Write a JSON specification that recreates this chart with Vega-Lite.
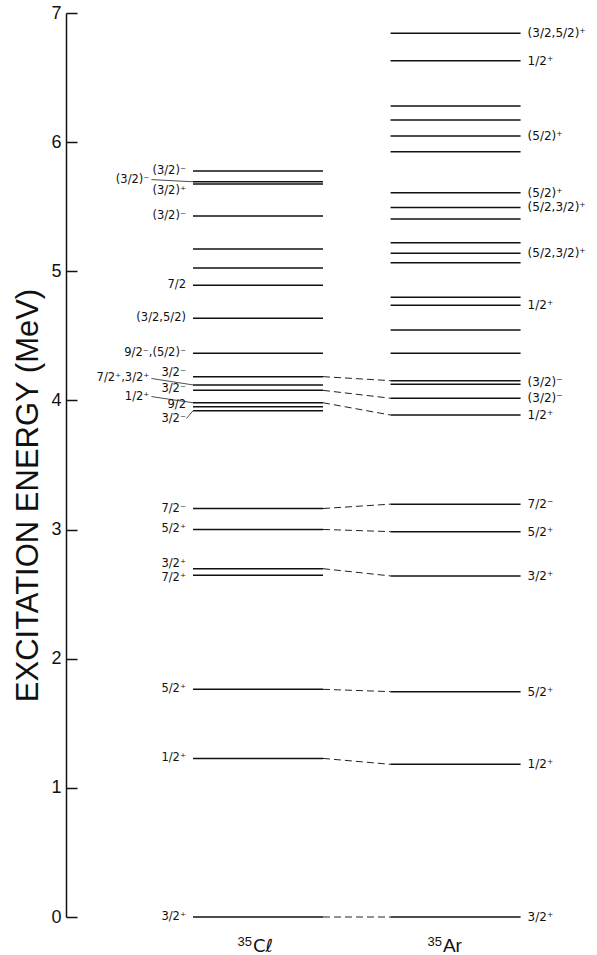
{
  "$schema": "https://vega.github.io/schema/vega-lite/v6.json",
  "width": 531,
  "height": 904,
  "autosize": {"type": "none"},
  "padding": {"left": 66, "top": 13, "right": 0, "bottom": 38},
  "background": "white",
  "config": {"view": {"stroke": null}},
  "datasets": {
    "levels": [
      {"nuc": "Cl", "E": 0, "J": "3/2⁺", "at": 0},
      {"nuc": "Cl", "E": 1.228, "J": "1/2⁺", "at": 1.228},
      {"nuc": "Cl", "E": 1.763, "J": "5/2⁺", "at": 1.763},
      {"nuc": "Cl", "E": 2.646, "J": "7/2⁺", "at": 2.625},
      {"nuc": "Cl", "E": 2.697, "J": "3/2⁺", "at": 2.73},
      {"nuc": "Cl", "E": 3.001, "J": "5/2⁺", "at": 3.001},
      {"nuc": "Cl", "E": 3.163, "J": "7/2⁻", "at": 3.163},
      {"nuc": "Cl", "E": 3.92, "J": "3/2⁻", "at": 3.86, "pos": "near"},
      {"nuc": "Cl", "E": 3.951, "J": "9/2", "at": 3.965},
      {"nuc": "Cl", "E": 3.982, "J": "1/2⁺", "at": 4.03, "pos": "far"},
      {"nuc": "Cl", "E": 4.078, "J": "3/2⁻", "at": 4.09},
      {"nuc": "Cl", "E": 4.12, "J": "7/2⁺,3/2⁺", "at": 4.17, "pos": "far"},
      {"nuc": "Cl", "E": 4.184, "J": "3/2⁻", "at": 4.215},
      {"nuc": "Cl", "E": 4.365, "J": "9/2⁻,(5/2)⁻", "at": 4.365},
      {"nuc": "Cl", "E": 4.636, "J": "(3/2,5/2)", "at": 4.636},
      {"nuc": "Cl", "E": 4.892, "J": "7/2", "at": 4.892},
      {"nuc": "Cl", "E": 5.025},
      {"nuc": "Cl", "E": 5.173},
      {"nuc": "Cl", "E": 5.428, "J": "(3/2)⁻", "at": 5.428},
      {"nuc": "Cl", "E": 5.675, "J": "(3/2)⁺", "at": 5.625},
      {"nuc": "Cl", "E": 5.693, "J": "(3/2)⁻", "at": 5.71, "pos": "far"},
      {"nuc": "Cl", "E": 5.777, "J": "(3/2)⁻", "at": 5.777},
      {"nuc": "Ar", "E": 0, "J": "3/2⁺", "at": 0},
      {"nuc": "Ar", "E": 1.182, "J": "1/2⁺", "at": 1.182},
      {"nuc": "Ar", "E": 1.745, "J": "5/2⁺", "at": 1.745},
      {"nuc": "Ar", "E": 2.641, "J": "3/2⁺", "at": 2.641},
      {"nuc": "Ar", "E": 2.984, "J": "5/2⁺", "at": 2.984},
      {"nuc": "Ar", "E": 3.197, "J": "7/2⁻", "at": 3.197},
      {"nuc": "Ar", "E": 3.887, "J": "1/2⁺", "at": 3.887},
      {"nuc": "Ar", "E": 4.017, "J": "(3/2)⁻", "at": 4.017},
      {"nuc": "Ar", "E": 4.125},
      {"nuc": "Ar", "E": 4.153, "J": "(3/2)⁻", "at": 4.139},
      {"nuc": "Ar", "E": 4.365},
      {"nuc": "Ar", "E": 4.545},
      {"nuc": "Ar", "E": 4.737, "J": "1/2⁺", "at": 4.737},
      {"nuc": "Ar", "E": 4.798},
      {"nuc": "Ar", "E": 5.067},
      {"nuc": "Ar", "E": 5.139, "J": "(5/2,3/2)⁺", "at": 5.139},
      {"nuc": "Ar", "E": 5.221},
      {"nuc": "Ar", "E": 5.405},
      {"nuc": "Ar", "E": 5.494, "J": "(5/2,3/2)⁺", "at": 5.494},
      {"nuc": "Ar", "E": 5.609, "J": "(5/2)⁺", "at": 5.609},
      {"nuc": "Ar", "E": 5.926},
      {"nuc": "Ar", "E": 6.048, "J": "(5/2)⁺", "at": 6.048},
      {"nuc": "Ar", "E": 6.172},
      {"nuc": "Ar", "E": 6.28},
      {"nuc": "Ar", "E": 6.631, "J": "1/2⁺", "at": 6.631},
      {"nuc": "Ar", "E": 6.843, "J": "(3/2,5/2)⁺", "at": 6.843}
    ],
    "links": [
      {"cl": 0, "ar": 0},
      {"cl": 1.228, "ar": 1.182},
      {"cl": 1.763, "ar": 1.745},
      {"cl": 2.697, "ar": 2.641},
      {"cl": 3.001, "ar": 2.984},
      {"cl": 3.163, "ar": 3.197},
      {"cl": 3.982, "ar": 3.887},
      {"cl": 4.078, "ar": 4.017},
      {"cl": 4.184, "ar": 4.153}
    ],
    "names": [
      {"nuc": "Cl", "mass": "35", "sym": "Cℓ"},
      {"nuc": "Ar", "mass": "35", "sym": "Ar"}
    ]
  },
  "layer": [
    {
      "data": {"name": "levels"},
      "transform": [{"filter": "datum.nuc === 'Cl'"}],
      "mark": {"type": "rule", "stroke": "#111", "strokeWidth": 1.5},
      "encoding": {
        "x": {"datum": 0, "type": "quantitative", "scale": {"domain": [-0.977, 3.108], "nice": false, "zero": false}, "axis": null},
        "x2": {"datum": 1},
        "y": {
          "field": "E", "type": "quantitative",
          "scale": {"domain": [0, 7], "nice": false, "zero": false},
          "title": "EXCITATION ENERGY (MeV)",
          "axis": {
            "values": [0, 1, 2, 3, 4, 5, 6, 7], "format": "d", "grid": false,
            "tickSize": -11, "tickWidth": 1.5, "tickColor": "#111",
            "domainColor": "#111", "domainWidth": 1.5,
            "labelFont": "Liberation Sans", "labelFontSize": 18, "labelColor": "#111",
            "labelPadding": 16, "labelBaseline": "middle",
            "titleFont": "Liberation Sans", "titleFontSize": 31, "titleFontWeight": "normal",
            "titleColor": "#111", "titleAngle": -90, "titleX": -29, "titleY": 482,
            "titleBaseline": "alphabetic", "titleAlign": "center"
          }
        }
      }
    },
    {
      "data": {"name": "levels"},
      "transform": [{"filter": "datum.nuc === 'Ar'"}],
      "mark": {"type": "rule", "stroke": "#111", "strokeWidth": 1.5},
      "encoding": {
        "x": {"datum": 1.52, "type": "quantitative"},
        "x2": {"datum": 2.52},
        "y": {"field": "E", "type": "quantitative", "title": "EXCITATION ENERGY (MeV)"}
      }
    },
    {
      "data": {"name": "links"},
      "mark": {"type": "rule", "stroke": "#222", "strokeWidth": 1, "strokeDash": [7, 4]},
      "encoding": {
        "x": {"datum": 1, "type": "quantitative"},
        "x2": {"datum": 1.52},
        "y": {"field": "cl", "type": "quantitative", "title": "EXCITATION ENERGY (MeV)"},
        "y2": {"field": "ar"}
      }
    },
    {
      "data": {"name": "levels"},
      "transform": [{"filter": "datum.pos === 'far'"}],
      "mark": {"type": "rule", "stroke": "#222", "strokeWidth": 0.8},
      "encoding": {
        "x": {"datum": -0.32, "type": "quantitative"},
        "x2": {"datum": 0},
        "y": {"field": "at", "type": "quantitative", "title": "EXCITATION ENERGY (MeV)"},
        "y2": {"field": "E"}
      }
    },
    {
      "data": {"name": "levels"},
      "transform": [{"filter": "datum.pos === 'near'"}],
      "mark": {"type": "rule", "stroke": "#222", "strokeWidth": 0.8},
      "encoding": {
        "x": {"datum": -0.05, "type": "quantitative"},
        "x2": {"datum": 0},
        "y": {"field": "at", "type": "quantitative", "title": "EXCITATION ENERGY (MeV)"},
        "y2": {"field": "E"}
      }
    },
    {
      "data": {"name": "levels"},
      "transform": [{"filter": "datum.nuc === 'Cl' && datum.J && datum.pos !== 'far'"}],
      "mark": {"type": "text", "align": "right", "baseline": "middle", "dx": -7, "font": "DejaVu Sans", "fontSize": 11.5, "fill": "#111"},
      "encoding": {
        "x": {"datum": 0, "type": "quantitative"},
        "y": {"field": "at", "type": "quantitative", "title": "EXCITATION ENERGY (MeV)"},
        "text": {"field": "J"}
      }
    },
    {
      "data": {"name": "levels"},
      "transform": [{"filter": "datum.nuc === 'Cl' && datum.pos === 'far'"}],
      "mark": {"type": "text", "align": "right", "baseline": "middle", "dx": -2, "font": "DejaVu Sans", "fontSize": 11.5, "fill": "#111"},
      "encoding": {
        "x": {"datum": -0.32, "type": "quantitative"},
        "y": {"field": "at", "type": "quantitative", "title": "EXCITATION ENERGY (MeV)"},
        "text": {"field": "J"}
      }
    },
    {
      "data": {"name": "levels"},
      "transform": [{"filter": "datum.nuc === 'Ar' && datum.J"}],
      "mark": {"type": "text", "align": "left", "baseline": "middle", "dx": 7, "font": "DejaVu Sans", "fontSize": 12, "fill": "#111"},
      "encoding": {
        "x": {"datum": 2.52, "type": "quantitative"},
        "y": {"field": "at", "type": "quantitative", "title": "EXCITATION ENERGY (MeV)"},
        "text": {"field": "J"}
      }
    },
    {
      "data": {"name": "names"},
      "transform": [{"filter": "datum.nuc === 'Cl'"}],
      "layer": [
        {
          "mark": {"type": "text", "align": "right", "baseline": "alphabetic", "font": "Liberation Sans", "fontSize": 13, "fill": "#111"},
          "encoding": {
            "x": {"datum": 0.454, "type": "quantitative"},
            "y": {"datum": -0.225, "type": "quantitative"},
            "text": {"field": "mass"}
          }
        },
        {
          "mark": {"type": "text", "align": "left", "baseline": "alphabetic", "dx": 1, "font": "DejaVu Sans", "fontSize": 18, "fill": "#111"},
          "encoding": {
            "x": {"datum": 0.454, "type": "quantitative"},
            "y": {"datum": -0.271, "type": "quantitative"},
            "text": {"field": "sym"}
          }
        }
      ]
    },
    {
      "data": {"name": "names"},
      "transform": [{"filter": "datum.nuc === 'Ar'"}],
      "layer": [
        {
          "mark": {"type": "text", "align": "right", "baseline": "alphabetic", "font": "Liberation Sans", "fontSize": 13, "fill": "#111"},
          "encoding": {
            "x": {"datum": 1.915, "type": "quantitative"},
            "y": {"datum": -0.225, "type": "quantitative"},
            "text": {"field": "mass"}
          }
        },
        {
          "mark": {"type": "text", "align": "left", "baseline": "alphabetic", "dx": 1, "font": "Liberation Sans", "fontSize": 19, "fill": "#111"},
          "encoding": {
            "x": {"datum": 1.915, "type": "quantitative"},
            "y": {"datum": -0.271, "type": "quantitative"},
            "text": {"field": "sym"}
          }
        }
      ]
    }
  ]
}
